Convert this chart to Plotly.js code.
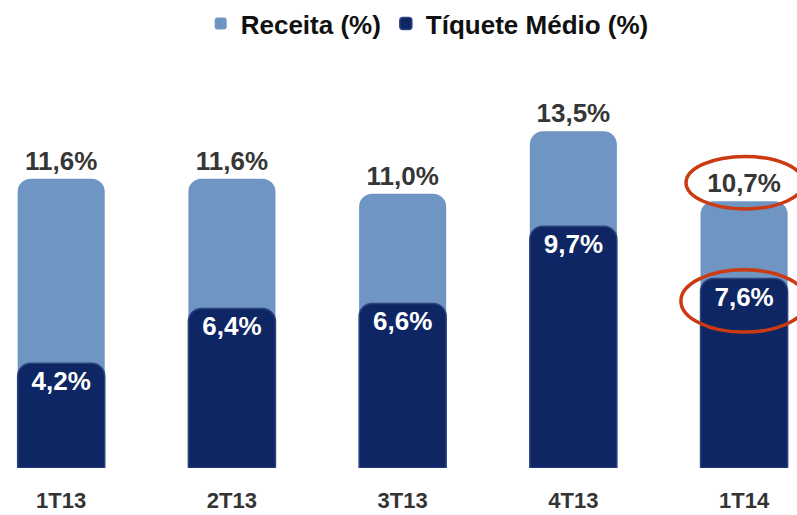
<!DOCTYPE html>
<html><head><meta charset="utf-8">
<script src="https://cdn.plot.ly/plotly-3.0.1.min.js"></script>
<style>html,body{margin:0;padding:0;background:#fff}#chart{width:797px;height:515px}</style>
</head><body><div id="chart"></div>
<script>
const categories = ['1T13','2T13','3T13','4T13','1T14'];
const receita = [11.6, 11.6, 11.0, 13.5, 10.7];
const tiquete = [4.2, 6.4, 6.6, 9.7, 7.6];
const seriesNames = ['Receita (%)', 'Tíquete Médio (%)'];

const FONT = '"Liberation Sans", Arial, sans-serif';
const idx = categories.length - 1;
const XR = [-0.3585, 4.31];
const YR = [0, 15.52];

const traces = [
  {type:'bar', name:seriesNames[0], x:categories, y:receita, width:0.51,
   marker:{color:'#6f96c3', line:{width:0}, cornerradius:13},
   texttemplate:'%{y:.1f}%', textposition:'outside',
   textfont:{family:FONT, size:26, color:'#363636', weight:'bold'},
   cliponaxis:false, hoverinfo:'skip'},
  {type:'bar', name:seriesNames[1], x:categories, y:tiquete, width:0.51,
   xaxis:'x2', yaxis:'y2',
   marker:{color:'#0e2664', line:{width:1.5, color:'#2c437f'}, cornerradius:13},
   texttemplate:'%{y:.1f}%', textposition:'inside', insidetextanchor:'end',
   textfont:{family:FONT, size:26, color:'#ffffff', weight:'bold'},
   hoverinfo:'skip'}
];

const layout = {
  width:797, height:515,
  margin:{l:0, r:0, t:80, b:47},
  paper_bgcolor:'#ffffff', plot_bgcolor:'#ffffff',
  barmode:'overlay',
  separators:',.',
  font:{family:FONT},
  showlegend:true,
  legend:{orientation:'h', x:0.536, xanchor:'center', y:1.21, yanchor:'top',
          font:{family:FONT, size:26, color:'#111', weight:'bold'},
          itemwidth:30, tracegroupgap:0},
  xaxis:{type:'category', range:XR, showgrid:false, zeroline:false,
         showline:false, ticks:'', ticklabelstandoff:17,
         tickfont:{family:FONT, size:22, color:'#333', weight:'bold'}},
  yaxis:{range:YR, visible:false, showgrid:false, zeroline:false},
  xaxis2:{type:'category', range:XR, overlaying:'x', visible:false, matches:'x'},
  yaxis2:{range:YR, overlaying:'y', visible:false},
  shapes:[
    {type:'circle', xref:'x', yref:'y',
     x0:idx-0.34, x1:idx+0.35, y0:receita[idx]+0.74-1.05, y1:receita[idx]+0.74+1.05,
     line:{color:'#cc3a12', width:3.5}},
    {type:'circle', xref:'x', yref:'y',
     x0:idx-0.37, x1:idx+0.37, y0:tiquete[idx]-0.9-1.25, y1:tiquete[idx]-0.9+1.25,
     line:{color:'#cc3a12', width:3.5}}
  ]
};

Plotly.newPlot('chart', traces, layout, {staticPlot:true, displayModeBar:false});
</script></body></html>
